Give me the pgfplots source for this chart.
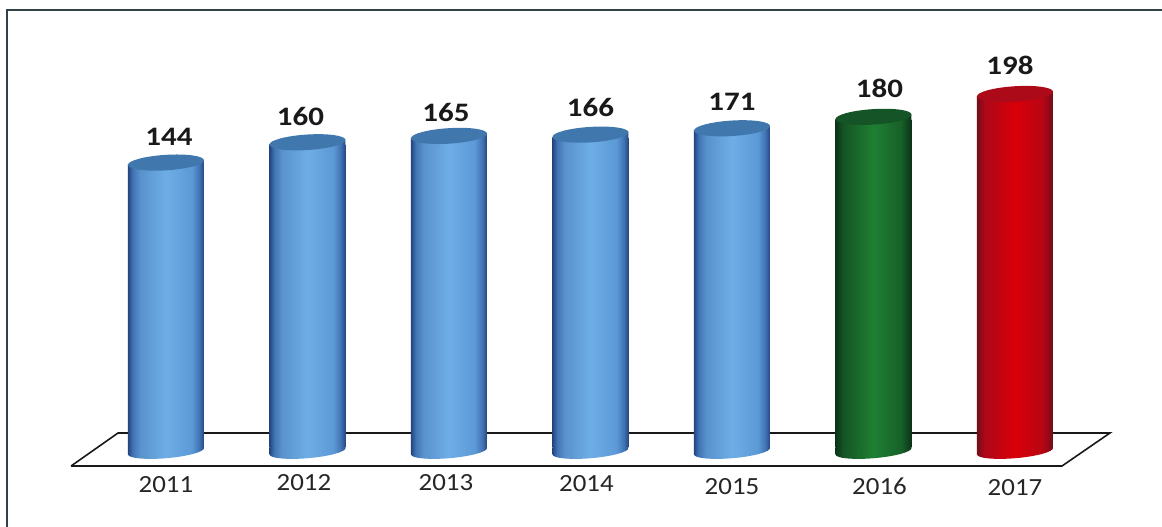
\documentclass[border=0pt]{standalone}
\usepackage{fontspec}
\setmainfont{Carlito}
\usepackage{pgfplots}
\pgfplotsset{compat=1.18}

\newfontfamily\tickfont{Carlito}[FakeStretch=1.09]
\newfontfamily\valfont{Carlito}[FakeStretch=1.16]

% 1 px of the reference = 0.75pt
\newcommand{\nudge}[3]{\makebox[0pt]{\kern\dimexpr #1pt*3/2\relax\raisebox{\dimexpr #2pt*3/4\relax}[0pt][0pt]{#3}}}
\newcommand{\tl}[3]{\nudge{#1}{#2}{\color{black!85}\tickfont\fontsize{18.5}{20}\selectfont #3}}
\newcommand{\vl}[3]{\nudge{#1}{#2}{\color{black!90}\valfont\bfseries\fontsize{20}{22}\selectfont #3}}

\pgfdeclarehorizontalshading{cylblue}{100bp}{
  rgb(0bp)=(0.14,0.27,0.50); rgb(25bp)=(0.14,0.27,0.50); rgb(28bp)=(0.25,0.45,0.70);
  rgb(33bp)=(0.35,0.57,0.80); rgb(50bp)=(0.43,0.68,0.90); rgb(67bp)=(0.36,0.60,0.84);
  rgb(72bp)=(0.25,0.45,0.70); rgb(75bp)=(0.15,0.27,0.50); rgb(100bp)=(0.15,0.27,0.50)}
\pgfdeclarehorizontalshading{cylgreen}{100bp}{
  rgb(0bp)=(0.05,0.20,0.10); rgb(25bp)=(0.05,0.20,0.10); rgb(30bp)=(0.08,0.33,0.14);
  rgb(50bp)=(0.12,0.50,0.20); rgb(68bp)=(0.09,0.38,0.16); rgb(75bp)=(0.05,0.20,0.10);
  rgb(100bp)=(0.05,0.20,0.10)}
\pgfdeclarehorizontalshading{cylred}{100bp}{
  rgb(0bp)=(0.45,0.05,0.10); rgb(25bp)=(0.45,0.05,0.10); rgb(30bp)=(0.68,0.03,0.10);
  rgb(50bp)=(0.85,0.00,0.03); rgb(68bp)=(0.72,0.02,0.08); rgb(75bp)=(0.45,0.05,0.10);
  rgb(100bp)=(0.45,0.05,0.10)}

% foot: mark origin sits on the bar's lower edge; top: on its upper edge
\newcommand{\cylmarks}[2]{%
\pgfdeclareplotmark{foot#1}{%
  \pgfpathmoveto{\pgfpoint{-28.5pt}{0pt}}\pgfpathlineto{\pgfpoint{28.5pt}{0pt}}\pgfpathlineto{\pgfpoint{-28.5pt}{-4.8pt}}\pgfpathclose
  \pgfshadepath{#1}{0}\pgfusepath{discard}%
  \pgfpathellipse{\pgfpoint{0pt}{-2.4pt}}{\pgfpoint{28.5pt}{2.4pt}}{\pgfpoint{-0.4pt}{5.25pt}}%
  \pgfshadepath{#1}{0}\pgfusepath{discard}}%
\pgfdeclareplotmark{top#1}{%
  \pgfpathmoveto{\pgfpoint{-28.5pt}{0pt}}\pgfpathlineto{\pgfpoint{28.5pt}{0pt}}\pgfpathlineto{\pgfpoint{28.5pt}{3.6pt}}\pgfpathclose
  \pgfshadepath{#1}{0}\pgfusepath{discard}%
  \pgfsetfillcolor{#2}%
  \pgfpathellipse{\pgfpoint{0pt}{1.8pt}}{\pgfpoint{28.5pt}{1.8pt}}{\pgfpoint{-0.4pt}{5.8pt}}%
  \pgfusepathqfill}}

\definecolor{lidblue}{rgb}{0.25,0.47,0.68}
\definecolor{lidgreen}{rgb}{0.08,0.33,0.15}
\definecolor{lidred}{rgb}{0.68,0.04,0.10}
\definecolor{framecol}{rgb}{0.20,0.25,0.28}
\cylmarks{cylblue}{lidblue}
\cylmarks{cylgreen}{lidgreen}
\cylmarks{cylred}{lidred}

\begin{document}
\begin{tikzpicture}
\begin{axis}[
  scale only axis,
  width=871.5pt,
  height=395.25pt,
  xmin=-1.173, xmax=7.039,
  ymin=-141, ymax=273.9,
  y coord trafo/.code={\pgfmathparse{#1+78.8}},
  axis line style={draw=none},
  tick style={draw=none},
  ytick=\empty,
  xtick={0,...,6},
  xticklabels={{\tl{0}{-1}{2011}},{\tl{-3.5}{1}{2012}},{\tl{-3}{1}{2013}},{\tl{-4}{0}{2014}},
    {\tl{0}{-3}{2015}},{\tl{6}{-3}{2016}},{\tl{0}{-4}{2017}}},
  x tick label style={anchor=base, yshift=26.25pt},
  every node near coord/.append style={anchor=base, yshift=14.25pt},
  cyl/.style={ybar, bar width=57pt, bar shift=0pt, draw=none, shade, shading=#1,
    point meta=explicit symbolic, nodes near coords},
]
% floor
\addplot[black!90, line width=1.2pt, mark=none, sharp plot] coordinates {
  (-0.671,-93) (6.332,-93) (6.671,-67) (-0.339,-67) (-0.671,-93)};

% cylinder feet
\addplot[only marks, mark=footcylblue] coordinates {(0,-78.8) (1,-78.8) (2,-78.8) (3,-78.8) (4,-78.8)};
\addplot[only marks, mark=footcylgreen] coordinates {(5,-78.8)};
\addplot[only marks, mark=footcylred] coordinates {(6,-78.8)};

% bars
\addplot[cyl=cylblue] coordinates {(0,144) [\vl{3}{0}{144}]};
\addplot[cyl=cylblue] coordinates {(1,160) [\vl{-7}{0}{160}]};
\addplot[cyl=cylblue] coordinates {(2,165) [\vl{-3}{-2}{165}]};
\addplot[cyl=cylblue] coordinates {(3,166) [\vl{0}{2}{166}]};
\addplot[cyl=cylblue] coordinates {(4,171) [\vl{0}{1}{171}]};
\addplot[cyl=cylgreen] coordinates {(5,180) [\vl{6}{3}{180}]};
\addplot[cyl=cylred] coordinates {(6,198) [\vl{-5}{3}{198}]};

% lids
\addplot[only marks, mark=topcylblue] coordinates {(0,144) (1,160) (2,165) (3,166) (4,171)};
\addplot[only marks, mark=topcylgreen] coordinates {(5,180)};
\addplot[only marks, mark=topcylred] coordinates {(6,198)};

% frame
\draw[framecol, line width=1.4pt] (rel axis cs:0.006,0) -- (rel axis cs:0.006,0.981) -- (rel axis cs:1,0.981);
\end{axis}
\end{tikzpicture}
\end{document}
